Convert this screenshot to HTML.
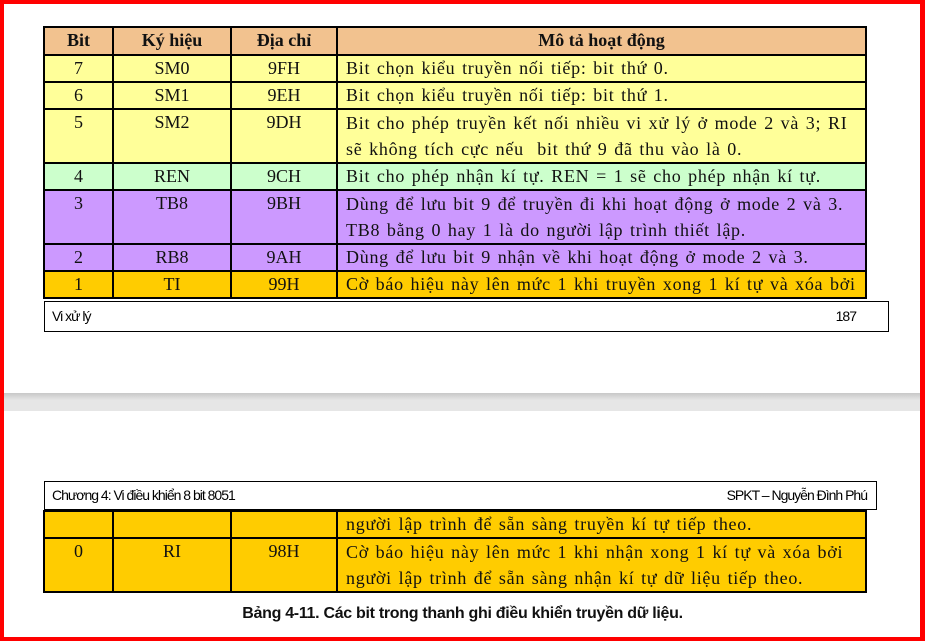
<!DOCTYPE html>
<html><head><meta charset="utf-8"><style>
*{margin:0;padding:0;box-sizing:border-box}
body{width:925px;height:641px;position:relative;background:#fff;overflow:hidden;font-family:"Liberation Serif",serif}
.frame{position:absolute;left:0;top:0;width:925px;height:641px;border:4px solid #f00;border-right-width:5px;border-bottom-width:4px}
.band{position:absolute;left:4px;width:916px;top:393px;height:18px;background:linear-gradient(#c8c8c8,#e6e6e6 40%,#e6e6e6)}
table{position:absolute;border-collapse:collapse;table-layout:fixed}
td{border:2px solid #000;font-size:18px;line-height:25px;vertical-align:top;color:#111;white-space:nowrap;overflow:hidden;padding:0}
td.c{text-align:center}
td.d{padding-left:8px;letter-spacing:0.72px;word-spacing:1.5px}
td.d2{line-height:26px}
.h td{background:#f2c28f;font-weight:bold;text-align:center;line-height:25px}
.y td{background:#ffff99}.g td{background:#ccffcc}.p td{background:#cc99ff}.o td{background:#ffcc00}
tr.r1{height:25px}tr.r2{height:52px}
.box{position:absolute;border:1.5px solid #000;font-family:"Liberation Sans",sans-serif;font-size:14px;letter-spacing:-1px}
.cap{position:absolute;top:605px;left:0;width:925px;text-align:center;font-family:"Liberation Sans",sans-serif;font-weight:bold;font-size:16px;letter-spacing:-0.3px;color:#111}
</style></head><body>
<div class="band"></div>
<table style="left:43px;top:26px;width:824px">
<colgroup><col style="width:69px"><col style="width:118px"><col style="width:106px"><col></colgroup>
<tr class="h" style="height:28px"><td>Bit</td><td>Ký hiệu</td><td>Địa chỉ</td><td>Mô tả hoạt động</td></tr>
<tr class="y r1"><td class="c">7</td><td class="c">SM0</td><td class="c">9FH</td><td class="d">Bit chọn kiểu truyền nối tiếp: bit thứ 0.</td></tr>
<tr class="y r1"><td class="c">6</td><td class="c">SM1</td><td class="c">9EH</td><td class="d">Bit chọn kiểu truyền nối tiếp: bit thứ 1.</td></tr>
<tr class="y r2"><td class="c">5</td><td class="c">SM2</td><td class="c">9DH</td><td class="d d2">Bit cho phép truyền kết nối nhiều vi xử lý ở mode 2 và 3; RI<br>sẽ không tích cực nếu &nbsp;bit thứ 9 đã thu vào là 0.</td></tr>
<tr class="g r1"><td class="c">4</td><td class="c">REN</td><td class="c">9CH</td><td class="d">Bit cho phép nhận kí tự. REN = 1 sẽ cho phép nhận kí tự.</td></tr>
<tr class="p r2"><td class="c">3</td><td class="c">TB8</td><td class="c">9BH</td><td class="d d2">Dùng để lưu bit 9 để truyền đi khi hoạt động ở mode 2 và 3.<br>TB8 bằng 0 hay 1 là do người lập trình thiết lập.</td></tr>
<tr class="p r1"><td class="c">2</td><td class="c">RB8</td><td class="c">9AH</td><td class="d">Dùng để lưu bit 9 nhận về khi hoạt động ở mode 2 và 3.</td></tr>
<tr class="o r1"><td class="c">1</td><td class="c">TI</td><td class="c">99H</td><td class="d">Cờ báo hiệu này lên mức 1 khi truyền xong 1 kí tự và xóa bởi</td></tr>
</table>
<div class="box" style="left:44px;top:301px;width:845px;height:31px"><span style="position:absolute;left:7px;top:6px">Vi xử lý</span><span style="position:absolute;right:32px;top:6px">187</span></div>
<div class="box" style="left:44px;top:481px;width:833px;height:29px"><span style="position:absolute;left:7px;top:5px">Chương 4: Vi điều khiển 8 bit 8051</span><span style="position:absolute;right:9px;top:5px">SPKT – Nguyễn Đình Phú</span></div>
<table style="left:43px;top:510px;width:824px">
<colgroup><col style="width:69px"><col style="width:118px"><col style="width:106px"><col></colgroup>
<tr class="o" style="height:26px"><td></td><td></td><td></td><td class="d">người lập trình để sẵn sàng truyền kí tự tiếp theo.</td></tr>
<tr class="o r2"><td class="c">0</td><td class="c">RI</td><td class="c">98H</td><td class="d d2">Cờ báo hiệu này lên mức 1 khi nhận xong 1 kí tự và xóa bởi<br>người lập trình để sẵn sàng nhận kí tự dữ liệu tiếp theo.</td></tr>
</table>
<div class="cap">Bảng 4-11. Các bit trong thanh ghi điều khiển truyền dữ liệu.</div>
<div class="frame"></div>
</body></html>
